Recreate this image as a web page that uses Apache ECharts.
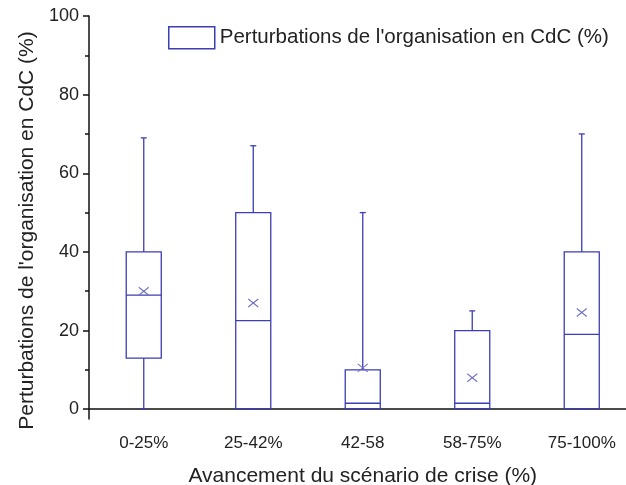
<!DOCTYPE html>
<html>
<head>
    <meta charset="utf-8"/>
    <title>ECharts</title>
    <script src="https://cdn.jsdelivr.net/npm/echarts@6/dist/echarts.min.js"></script>
</head>
<body style="margin: 0">
<div id="main" style="width: 626px; height: 485px"></div>
<script type="text/javascript">
    // categories and box statistics
    var categories = ['0-25%', '25-42%', '42-58', '58-75%', '75-100%'];
    var whiskerLow = [0, 0, 0, 0, 0];
    var q1 = [13, 0, 0, 0, 0];
    var median = [29, 22.5, 1.5, 1.5, 19];
    var q3 = [40, 50, 10, 20, 40];
    var whiskerHigh = [69, 67, 50, 25, 70];
    var means = [30, 27, 10.5, 8, 24.6];
    var yTicks = [0, 20, 40, 60, 80, 100];
    var yMinorTicks = [10, 30, 50, 70, 90];

    var seriesName = "Perturbations de l'organisation en CdC (%)";
    var boxColor = '#3d3db5';
    var meanColor = '#6e6ec4';
    var font = 'Liberation Sans';

    var data = categories.map(function (c, i) {
        return [i, whiskerLow[i], q1[i], median[i], q3[i], whiskerHigh[i], means[i]];
    });

    function renderItem(params, api) {
        var i = api.value(0);
        var lo = api.coord([i, api.value(1)]);
        var b1 = api.coord([i, api.value(2)]);
        var md = api.coord([i, api.value(3)]);
        var b3 = api.coord([i, api.value(4)]);
        var hi = api.coord([i, api.value(5)]);
        var mn = api.coord([i, api.value(6)]);
        var cx = lo[0];
        var half = api.size([1, 0])[0] * 0.16;
        var cap = 3;
        var mw = 5, mh = 4;
        var line = {stroke: boxColor, lineWidth: 1.3, fill: null};
        var thin = {stroke: meanColor, lineWidth: 1.1, fill: null};
        return {
            type: 'group',
            children: [
                {type: 'line', shape: {x1: cx, y1: lo[1], x2: cx, y2: b1[1]}, style: line},
                {type: 'line', shape: {x1: cx, y1: b3[1], x2: cx, y2: hi[1]}, style: line},
                {type: 'line', shape: {x1: cx - cap, y1: lo[1], x2: cx + cap, y2: lo[1]}, style: line},
                {type: 'line', shape: {x1: cx - cap, y1: hi[1], x2: cx + cap, y2: hi[1]}, style: line},
                {
                    type: 'rect',
                    shape: {x: cx - half, y: b3[1], width: half * 2, height: b1[1] - b3[1]},
                    style: {stroke: boxColor, lineWidth: 1.3, fill: 'none'}
                },
                {type: 'line', shape: {x1: cx - half, y1: md[1], x2: cx + half, y2: md[1]}, style: line},
                {type: 'line', shape: {x1: cx - mw, y1: mn[1] - mh, x2: cx + mw, y2: mn[1] + mh}, style: thin},
                {type: 'line', shape: {x1: cx - mw, y1: mn[1] + mh, x2: cx + mw, y2: mn[1] - mh}, style: thin}
            ]
        };
    }

    var myChart = echarts.init(document.getElementById('main'));

    var option = {
        backgroundColor: '#fff',
        animation: false,
        grid: {left: 89, top: 16, width: 547.5, height: 403, containLabel: false, outerBoundsMode: 'none'},
        legend: {
            data: [{name: seriesName, icon: 'rect'}],
            left: 168,
            top: 26,
            padding: 0,
            itemWidth: 46,
            itemHeight: 22,
            itemStyle: {color: '#fff', borderColor: boxColor, borderWidth: 1.5},
            textStyle: {fontSize: 20.5, color: '#222', fontFamily: font}
        },
        xAxis: {
            type: 'category',
            data: categories,
            boundaryGap: true,
            axisLine: {lineStyle: {color: '#111', width: 1.5}},
            axisTick: {alignWithLabel: true, length: 5, lineStyle: {color: '#111', width: 1.5}},
            axisLabel: {fontSize: 17, color: '#222', margin: 16, fontFamily: font},
            splitLine: {show: false},
            name: 'Avancement du scénario de crise (%)',
            nameLocation: 'middle',
            nameGap: 47,
            nameTextStyle: {fontSize: 21, color: '#222', fontFamily: font}
        },
        yAxis: [{
            type: 'value',
            min: -2.5,
            max: 100,
            axisLine: {show: true, lineStyle: {color: '#111', width: 1.5}},
            axisTick: {show: true, length: 6, customValues: yTicks, lineStyle: {color: '#111', width: 1.5}},
            axisLabel: {customValues: yTicks, fontSize: 18, color: '#222', margin: 10, fontFamily: font},
            splitLine: {show: false},
            name: seriesName,
            nameLocation: 'middle',
            nameGap: 51,
            nameTextStyle: {fontSize: 21, color: '#222', fontFamily: font, padding: [0, 26, 0, 0]}
        }, {
            type: 'value',
            min: -2.5,
            max: 100,
            position: 'left',
            axisLine: {show: false},
            axisTick: {show: true, length: 4, customValues: yMinorTicks, lineStyle: {color: '#111', width: 1.5}},
            axisLabel: {show: false},
            splitLine: {show: false}
        }],
        series: [{
            name: seriesName,
            type: 'custom',
            renderItem: renderItem,
            itemStyle: {color: '#fff', borderColor: boxColor},
            encode: {x: 0, y: [1, 2, 3, 4, 5, 6]},
            data: data
        }]
    };

    myChart.setOption(option);
</script>
</body>
</html>
